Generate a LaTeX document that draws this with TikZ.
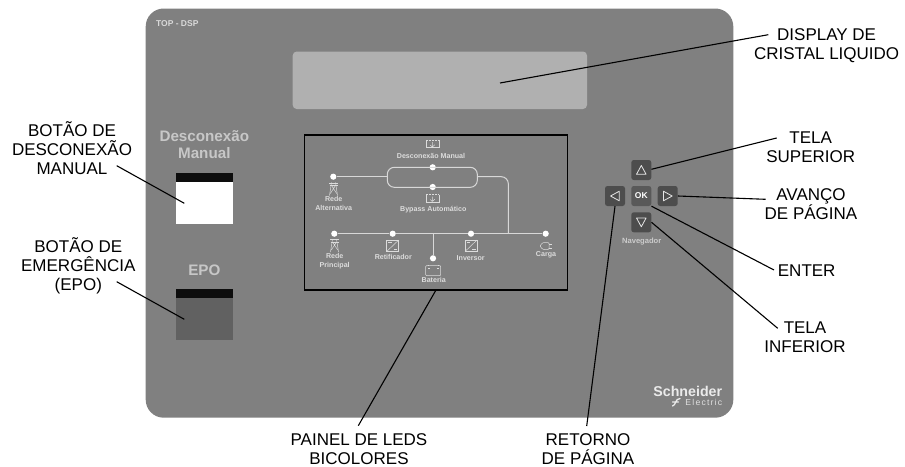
\documentclass[tikz,border=0pt]{standalone}
\usepackage{fontspec}
\setmainfont{Liberation Sans}
\definecolor{panelgray}{HTML}{808080}
\definecolor{lcdgray}{HTML}{B0B0B0}
\definecolor{ledline}{HTML}{D8D8D8}
\definecolor{keygray}{HTML}{4D4D4D}
\definecolor{tiny}{HTML}{DCDCDC}
\tikzset{
  x=1pt,y=-1pt,
  callout/.style={align=center,inner sep=0pt,font=\fontsize{17}{19}\selectfont,text=black},
  leader/.style={draw=black,line width=1.1pt},
  navkey/.style={fill=keygray,rounded corners=2.5pt,minimum width=20pt,minimum height=20pt,inner sep=0pt,text=white},
  glyph/.style={draw=white!90!black,line width=.8pt,line join=round},
  led/.style={circle,fill=white,minimum size=6.2pt,inner sep=0pt},
  bus/.style={draw=ledline,line width=1pt},
  icon/.style={draw=tiny,line width=.5pt},
  mini/.style={inner sep=0pt,text=tiny,align=center,font=\bfseries\fontsize{7.1}{8.9}\selectfont},
  heading/.style={inner sep=0pt,align=center,text=black!22,font=\bfseries\fontsize{15.2}{17.3}\selectfont},
}
\begin{document}
\begin{tikzpicture}
\useasboundingbox (0,0) rectangle (905,466);
% casing
\fill[panelgray,rounded corners=18pt] (145.7,8.5) rectangle (733.3,417.7);
\node[inner sep=0pt,text=black!15,font=\bfseries\fontsize{8.5}{9}\selectfont] (topdsp) at (177.3,23.3) {TOP - DSP};
\fill[lcdgray,rounded corners=4pt] (292.7,51.5) rectangle (587,109);
\coordinate (lcd) at (500,83);
% manual buttons
\node[heading] (hman) at (204.3,144.5) {Desconexão\\Manual};
\fill[white] (175.7,173.3) rectangle (233,224);
\fill[black!95] (175.7,173.3) rectangle (233,182.3);
\coordinate (btnman) at (184.3,203.3);
\node[heading] (hepo) at (204.3,270) {EPO};
\fill[black!62] (175.7,289) rectangle (233,340);
\fill[black!95] (175.7,289) rectangle (233,298.3);
\coordinate (btnepo) at (184.3,319.3);
% LED panel
\draw[draw=black,line width=1.2pt] (304.3,135) rectangle (567.8,290);
\coordinate (ledbox) at (436,290);
\node[led] (ra) at (333.3,176.7) {};
\node[led] (dm) at (432.7,167.3) {};
\node[led] (ba) at (432.7,187) {};
\node[led] (rp) at (334.3,233.7) {};
\node[led] (rt) at (392.7,233.7) {};
\node[led] (iv) at (471,233.7) {};
\node[led] (cg) at (545.7,233.7) {};
\node[led] (bt) at (433,258.3) {};
\coordinate (loopw) at (387.3,176.7);
\coordinate (loope) at (477.3,176.7);
\coordinate (jb) at (433,233.7);
\coordinate (jc) at (508.3,233.7);
\draw[bus] (rp) -- (rt) -- (jb) -- (iv) -- (jc) -- (cg);
\draw[bus] (jb) -- (bt);
\draw[bus] (ra) -- (loopw);
\draw[bus,rounded corners=7pt] (387.3,167.3) rectangle (477.3,187.3);
\draw[bus,rounded corners=7pt] (loope) -- (508.3,176.7) -- (jc);
\node[mini] (tdm) at (431,156) {Desconexão Manual};
\node[mini] (tba) at (433.3,209.3) {Bypass Automático};
\node[mini] (tra) at (333.7,203.7) {Rede\\Alternativa};
\node[mini] (trp) at (334.7,261.5) {Rede\\Principal};
\node[mini] (trt) at (393.3,257.3) {Retificador};
\node[mini] (tiv) at (470.7,257.7) {Inversor};
\node[mini] (tcg) at (546,254.7) {Carga};
\node[mini] (tbt) at (433.7,280.3) {Bateria};
% icons: transfer switches
\foreach \y in {140,194.5}{
  \draw[icon] (425.8,\y) -- (425.8,\y+7.5) -- (439.2,\y+7.5) -- (439.2,\y);
  \draw[icon,densely dotted] (425.8,\y) -- (439.2,\y);
  \draw[icon] (432.3,\y+2) -- (432.3,\y+7) (430.3,\y+5) -- (432.3,\y+7) (432.3,\y+7) -- (434.8,\y+4.8);
}
% icons: pylons
\foreach \x/\y in {333.5/182.5,334.5/239}{
  \draw[icon] (\x-2,\y) -- (\x-4,\y+13) (\x+2,\y) -- (\x+4,\y+13);
  \draw[icon] (\x-2,\y+3) -- (\x+3.2,\y+11) (\x+2,\y+3) -- (\x-3.2,\y+11);
  \draw[icon] (\x-4.5,\y+.5) -- (\x+4.5,\y+.5) (\x-4,\y+3) -- (\x+4,\y+3);
}
% icons: converters
\foreach \x in {392.7,471}{
  \draw[icon] (\x-6,240) rectangle (\x+6,251.5);
  \draw[icon] (\x-6,251.5) -- (\x+6,240);
  \draw[icon] (\x-4.5,242.5) -- (\x-1,242.5) (\x+1,249) -- (\x+4.5,249);
}
% icon: battery
\draw[icon,rounded corners=1pt] (425.7,265.5) rectangle (440.7,275.7);
\draw[icon] (428,265.5) -- (428,264.5) (438.4,265.5) -- (438.4,264.5) (428,268) -- (430,268) (436.5,268) -- (438.5,268);
% icon: load plug
\draw[icon,rounded corners=1pt] (539.7,246) -- (543,242.5) -- (549,242.5) -- (549,249.5) -- (543,249.5) -- cycle;
\draw[icon] (549,244) -- (552,244) (549,248) -- (552,248);
% navigation keys
\node[navkey] (kup) at (641.3,170) {};
\node[navkey,fill=black!65] (kok) at (641.3,196) {\bfseries\fontsize{8.5}{9}\selectfont OK};
\node[navkey] (klf) at (615,196) {};
\node[navkey] (krt) at (667.7,196) {};
\node[navkey] (kdn) at (641.3,222.3) {};
\draw[glyph] (641.3,165.5) -- (636.5,174.3) -- (646.1,174.3) -- cycle;
\draw[glyph] (641.3,226.8) -- (636.5,218) -- (646.1,218) -- cycle;
\draw[glyph] (610.5,196) -- (619.3,191.2) -- (619.3,200.8) -- cycle;
\draw[glyph] (672.2,196) -- (663.4,191.2) -- (663.4,200.8) -- cycle;
\node[inner sep=0pt,text=black!20,font=\fontsize{7.6}{8}\selectfont\bfseries] (nav) at (641.7,242) {Navegador};
% logo
\node[inner sep=0pt,anchor=east,text=black!8,font=\bfseries\fontsize{14.2}{16}\selectfont] (logoa) at (722.3,391.7) {Schneider};
\node[inner sep=0pt,anchor=east,text=black!12,font=\fontsize{8.6}{9}\selectfont] (logob) at (722.3,402) {\addfontfeature{LetterSpace=14}Electric};
\draw[draw=black!8,line width=1.3pt,line cap=round] (672.5,406) .. controls (676,405.5) and (675,398.5) .. (680,398.5) (672.5,402) -- (678.5,402);
% callouts
\node[callout] (cdisp) at (826.6,45.6) {DISPLAY DE\\CRISTAL LIQUIDO};
\node[callout] (csup) at (810.7,147.6) {TELA\\SUPERIOR};
\node[callout] (cavn) at (811,204.2) {AVANÇO\\DE PÁGINA};
\node[callout] (cent) at (806.7,270.7) {ENTER};
\node[callout] (cinf) at (805,337) {TELA\\INFERIOR};
\node[callout] (cman) at (72,147.7) {BOTÃO DE\\DESCONEXÃO\\MANUAL};
\node[callout] (cepo) at (78.3,266) {BOTÃO DE\\EMERGÊNCIA\\(EPO)};
\node[callout] (cled) at (359,449.6) {PAINEL DE LEDS\\BICOLORES};
\node[callout] (cret) at (588,449.6) {RETORNO\\DE PÁGINA};
\coordinate (edisp) at (768.3,34.7);
\coordinate (esup) at (776.7,138);
\coordinate (eavn) at (765.7,199.3);
\coordinate (eent) at (774,270);
\coordinate (einf) at (777.7,328.3);
\coordinate (eman) at (116.7,165.7);
\coordinate (eepo) at (116.7,281.7);
\coordinate (eled) at (358.3,425.7);
\coordinate (eret) at (586.7,426);
\draw[leader] (lcd) -- (edisp);
\draw[leader] (kup.east |- 0,169.3) -- (esup);
\draw[leader] (krt.east) -- (eavn);
\draw[leader] (kok.south east) -- (eent);
\draw[leader] (kdn.east) -- (einf);
\draw[leader] (eman) -- (btnman);
\draw[leader] (eepo) -- (btnepo);
\draw[leader] (ledbox) -- (eled);
\draw[leader] (klf.south) -- (eret);
\end{tikzpicture}
\end{document}
